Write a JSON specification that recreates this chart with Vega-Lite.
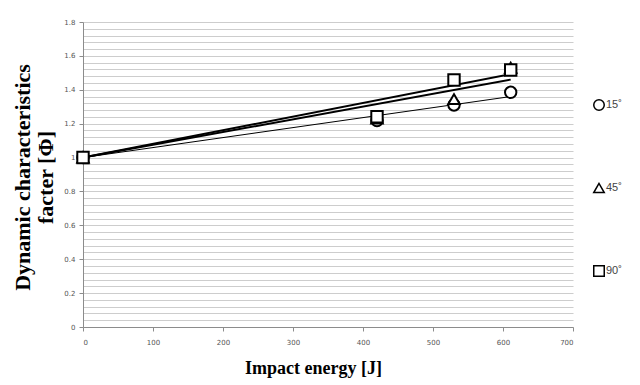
{
  "$schema": "https://vega.github.io/schema/vega-lite/v6.json",
  "width": 490,
  "height": 305,
  "autosize": {"type": "none"},
  "padding": {"left": 83, "top": 22, "right": 67, "bottom": 58},
  "background": "white",
  "config": {"view": {"stroke": null}},
  "datasets": {
    "points": [
      {"series": "15˚", "energy": 0, "phi": 1.0},
      {"series": "15˚", "energy": 420, "phi": 1.218},
      {"series": "15˚", "energy": 530, "phi": 1.31},
      {"series": "15˚", "energy": 611, "phi": 1.385},
      {"series": "45˚", "energy": 0, "phi": 1.0},
      {"series": "45˚", "energy": 420, "phi": 1.23},
      {"series": "45˚", "energy": 530, "phi": 1.345},
      {"series": "45˚", "energy": 611, "phi": 1.53},
      {"series": "90˚", "energy": 0, "phi": 1.0},
      {"series": "90˚", "energy": 420, "phi": 1.241},
      {"series": "90˚", "energy": 530, "phi": 1.458},
      {"series": "90˚", "energy": 611, "phi": 1.517}
    ],
    "trend": [
      {"series": "15˚", "energy": 0, "phi": 1.0},
      {"series": "15˚", "energy": 611, "phi": 1.36},
      {"series": "45˚", "energy": 0, "phi": 1.0},
      {"series": "45˚", "energy": 611, "phi": 1.46},
      {"series": "90˚", "energy": 0, "phi": 1.0},
      {"series": "90˚", "energy": 611, "phi": 1.493}
    ]
  },
  "layer": [
    {
      "data": {"name": "trend"},
      "transform": [{"filter": "datum.series === '15˚'"}],
      "mark": {"type": "line", "color": "black", "strokeWidth": 1},
      "encoding": {
        "x": {"field": "energy", "type": "quantitative"},
        "y": {"field": "phi", "type": "quantitative"},
        "detail": {"field": "series"}
      }
    },
    {
      "data": {"name": "trend"},
      "transform": [{"filter": "datum.series !== '15˚'"}],
      "mark": {"type": "line", "color": "black", "strokeWidth": 2},
      "encoding": {
        "x": {"field": "energy", "type": "quantitative"},
        "y": {"field": "phi", "type": "quantitative"},
        "detail": {"field": "series"}
      }
    },
    {
      "data": {"name": "points"},
      "mark": {"type": "point", "filled": true, "fill": "white", "stroke": "black", "strokeWidth": 2, "size": 130, "opacity": 1},
      "encoding": {
        "x": {
          "field": "energy", "type": "quantitative",
          "scale": {"domain": [0, 700], "nice": false},
          "axis": {
            "values": [0, 100, 200, 300, 400, 500, 600, 700],
            "tickCount": 20,
            "grid": false,
            "domainColor": "#8c8c8c",
            "tickColor": "#8c8c8c",
            "tickSize": 4,
            "labelPadding": 7,
            "labelFont": "DejaVu Sans",
            "labelFontSize": 7,
            "labelColor": "#555555",
            "title": "Impact energy [J]",
            "titleFont": "Liberation Serif",
            "titleFontSize": 18,
            "titleFontWeight": "bold",
            "titleColor": "black",
            "titlePadding": 14,
            "titleX": 230
          }
        },
        "y": {
          "field": "phi", "type": "quantitative",
          "scale": {"domain": [0, 1.8], "nice": false, "zero": true},
          "axis": {
            "values": [0, 0.04, 0.08, 0.12, 0.16, 0.2, 0.24, 0.28, 0.32, 0.36, 0.4, 0.44, 0.48, 0.52, 0.56, 0.6, 0.64, 0.68, 0.72, 0.76, 0.8, 0.84, 0.88, 0.92, 0.96, 1.0, 1.04, 1.08, 1.12, 1.16, 1.2, 1.24, 1.28, 1.32, 1.36, 1.4, 1.44, 1.48, 1.52, 1.56, 1.6, 1.64, 1.68, 1.72, 1.76, 1.8],
            "tickCount": 100,
            "labelOverlap": false,
            "labelExpr": "abs(datum.value*5 - round(datum.value*5)) < 0.001 ? format(datum.value, '.2~f') : ''",
            "tickOpacity": {"condition": {"test": "abs(datum.value*5 - round(datum.value*5)) < 0.001", "value": 1}, "value": 0},
            "grid": true,
            "gridColor": "#cdcdcd",
            "gridWidth": 1,
            "domainColor": "#8c8c8c",
            "tickColor": "#8c8c8c",
            "tickSize": 4,
            "labelPadding": 4,
            "labelFont": "DejaVu Sans",
            "labelFontSize": 7,
            "labelColor": "#555555",
            "title": ["Dynamic characteristics", "facter [Φ]"],
            "titleFont": "Liberation Serif",
            "titleFontSize": 22,
            "titleFontWeight": "bold",
            "titleColor": "black",
            "titlePadding": 6,
            "titleLineHeight": 23,
            "titleY": 155
          }
        },
        "shape": {
          "field": "series", "type": "nominal",
          "scale": {"domain": ["15˚", "45˚", "90˚"], "range": ["circle", "triangle-up", "square"]},
          "legend": {
            "orient": "none",
            "legendX": 510,
            "legendY": 77,
            "title": null,
            "rowPadding": 66,
            "symbolSize": 110,
            "labelFont": "Liberation Sans",
            "labelFontSize": 11,
            "labelColor": "#444444",
            "labelOffset": 1,
            "encode": {
              "symbols": {
                "update": {
                  "stroke": {"value": "black"},
                  "strokeWidth": {"value": 2},
                  "fill": {"value": "white"},
                  "opacity": {"value": 1}
                }
              }
            }
          }
        },
        "order": {"field": "series", "type": "nominal"}
      }
    }
  ]
}
